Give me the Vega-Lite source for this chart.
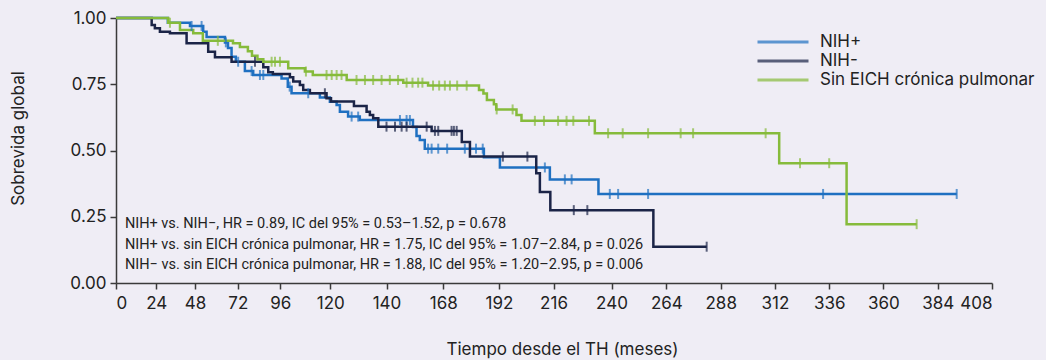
{
  "$schema": "https://vega.github.io/schema/vega-lite/v6.json",
  "width": 876,
  "height": 265,
  "autosize": {"type": "none"},
  "padding": {"left": 116, "top": 18, "right": 54, "bottom": 77},
  "background": "#efedf5",
  "config": {
    "view": {"stroke": null},
    "font": "Inter",
    "axis": {"grid": false, "domainColor": "#3a3a3a", "domainWidth": 1.5, "tickColor": "#3a3a3a", "tickWidth": 1.5, "labelColor": "#222222", "titleColor": "#222222", "labelFont": "Inter", "titleFont": "Inter", "titleFontWeight": "normal"}
  },
  "datasets": {
    "steps": [
      {"g": "NIH+", "t": 0, "s": 1.0}, {"g": "NIH+", "t": 31.2, "s": 0.982}, {"g": "NIH+", "t": 44.9, "s": 0.970}, {"g": "NIH+", "t": 52.6, "s": 0.948}, {"g": "NIH+", "t": 54.5, "s": 0.928}, {"g": "NIH+", "t": 64.8, "s": 0.908}, {"g": "NIH+", "t": 66.5, "s": 0.887}, {"g": "NIH+", "t": 68.5, "s": 0.854}, {"g": "NIH+", "t": 70.9, "s": 0.835}, {"g": "NIH+", "t": 76.0, "s": 0.800}, {"g": "NIH+", "t": 80.7, "s": 0.785}, {"g": "NIH+", "t": 96.6, "s": 0.772}, {"g": "NIH+", "t": 99.6, "s": 0.741}, {"g": "NIH+", "t": 101.4, "s": 0.716}, {"g": "NIH+", "t": 115.0, "s": 0.700}, {"g": "NIH+", "t": 119.8, "s": 0.684}, {"g": "NIH+", "t": 122.7, "s": 0.672}, {"g": "NIH+", "t": 124.1, "s": 0.646}, {"g": "NIH+", "t": 127.6, "s": 0.628}, {"g": "NIH+", "t": 132.6, "s": 0.615}, {"g": "NIH+", "t": 155.2, "s": 0.589}, {"g": "NIH+", "t": 156.7, "s": 0.555}, {"g": "NIH+", "t": 158.1, "s": 0.540}, {"g": "NIH+", "t": 160.2, "s": 0.507}, {"g": "NIH+", "t": 185.5, "s": 0.475}, {"g": "NIH+", "t": 192.4, "s": 0.436}, {"g": "NIH+", "t": 214.4, "s": 0.391}, {"g": "NIH+", "t": 234.6, "s": 0.336}, {"g": "NIH+", "t": 392.4, "s": 0.336},
      {"g": "NIH-", "t": 0, "s": 1.0}, {"g": "NIH-", "t": 21.3, "s": 0.974}, {"g": "NIH-", "t": 23.2, "s": 0.961}, {"g": "NIH-", "t": 26.3, "s": 0.948}, {"g": "NIH-", "t": 32.5, "s": 0.942}, {"g": "NIH-", "t": 42.8, "s": 0.905}, {"g": "NIH-", "t": 55.4, "s": 0.873}, {"g": "NIH-", "t": 59.2, "s": 0.852}, {"g": "NIH-", "t": 68.5, "s": 0.835}, {"g": "NIH-", "t": 86.4, "s": 0.814}, {"g": "NIH-", "t": 89.2, "s": 0.795}, {"g": "NIH-", "t": 91.8, "s": 0.789}, {"g": "NIH-", "t": 100.6, "s": 0.776}, {"g": "NIH-", "t": 102.2, "s": 0.760}, {"g": "NIH-", "t": 105.4, "s": 0.747}, {"g": "NIH-", "t": 107.0, "s": 0.728}, {"g": "NIH-", "t": 110.2, "s": 0.716}, {"g": "NIH-", "t": 118.2, "s": 0.697}, {"g": "NIH-", "t": 120.3, "s": 0.685}, {"g": "NIH-", "t": 130.1, "s": 0.668}, {"g": "NIH-", "t": 135.5, "s": 0.646}, {"g": "NIH-", "t": 136.9, "s": 0.634}, {"g": "NIH-", "t": 138.3, "s": 0.622}, {"g": "NIH-", "t": 140.5, "s": 0.590}, {"g": "NIH-", "t": 163.1, "s": 0.574}, {"g": "NIH-", "t": 176.0, "s": 0.532}, {"g": "NIH-", "t": 179.5, "s": 0.477}, {"g": "NIH-", "t": 208.4, "s": 0.414}, {"g": "NIH-", "t": 210.0, "s": 0.343}, {"g": "NIH-", "t": 214.6, "s": 0.275}, {"g": "NIH-", "t": 258.3, "s": 0.137}, {"g": "NIH-", "t": 281.8, "s": 0.137},
      {"g": "Sin EICH crónica pulmonar", "t": 0, "s": 1.0}, {"g": "Sin EICH crónica pulmonar", "t": 31.4, "s": 0.982}, {"g": "Sin EICH crónica pulmonar", "t": 38.7, "s": 0.955}, {"g": "Sin EICH crónica pulmonar", "t": 46.9, "s": 0.942}, {"g": "Sin EICH crónica pulmonar", "t": 52.4, "s": 0.914}, {"g": "Sin EICH crónica pulmonar", "t": 69.3, "s": 0.905}, {"g": "Sin EICH crónica pulmonar", "t": 73.2, "s": 0.891}, {"g": "Sin EICH crónica pulmonar", "t": 77.7, "s": 0.875}, {"g": "Sin EICH crónica pulmonar", "t": 80.0, "s": 0.858}, {"g": "Sin EICH crónica pulmonar", "t": 83.1, "s": 0.844}, {"g": "Sin EICH crónica pulmonar", "t": 86.4, "s": 0.835}, {"g": "Sin EICH crónica pulmonar", "t": 99.8, "s": 0.810}, {"g": "Sin EICH crónica pulmonar", "t": 107.8, "s": 0.798}, {"g": "Sin EICH crónica pulmonar", "t": 111.6, "s": 0.785}, {"g": "Sin EICH crónica pulmonar", "t": 127.0, "s": 0.766}, {"g": "Sin EICH crónica pulmonar", "t": 151.1, "s": 0.756}, {"g": "Sin EICH crónica pulmonar", "t": 161.6, "s": 0.745}, {"g": "Sin EICH crónica pulmonar", "t": 183.4, "s": 0.728}, {"g": "Sin EICH crónica pulmonar", "t": 185.3, "s": 0.715}, {"g": "Sin EICH crónica pulmonar", "t": 186.8, "s": 0.691}, {"g": "Sin EICH crónica pulmonar", "t": 189.8, "s": 0.675}, {"g": "Sin EICH crónica pulmonar", "t": 190.8, "s": 0.655}, {"g": "Sin EICH crónica pulmonar", "t": 199.7, "s": 0.634}, {"g": "Sin EICH crónica pulmonar", "t": 201.9, "s": 0.612}, {"g": "Sin EICH crónica pulmonar", "t": 233.1, "s": 0.565}, {"g": "Sin EICH crónica pulmonar", "t": 313.9, "s": 0.452}, {"g": "Sin EICH crónica pulmonar", "t": 343.7, "s": 0.222}, {"g": "Sin EICH crónica pulmonar", "t": 374.7, "s": 0.222}
    ],
    "censor": [
      {"g": "NIH+", "t": 45.9, "s": 0.970}, {"g": "NIH+", "t": 51.7, "s": 0.970}, {"g": "NIH+", "t": 65.3, "s": 0.908}, {"g": "NIH+", "t": 72.2, "s": 0.835}, {"g": "NIH+", "t": 79.8, "s": 0.800}, {"g": "NIH+", "t": 84.5, "s": 0.785}, {"g": "NIH+", "t": 86.4, "s": 0.785}, {"g": "NIH+", "t": 100.5, "s": 0.741}, {"g": "NIH+", "t": 109.4, "s": 0.716}, {"g": "NIH+", "t": 129.1, "s": 0.628}, {"g": "NIH+", "t": 131.9, "s": 0.628}, {"g": "NIH+", "t": 149.7, "s": 0.615}, {"g": "NIH+", "t": 152.5, "s": 0.615}, {"g": "NIH+", "t": 153.9, "s": 0.615}, {"g": "NIH+", "t": 161.6, "s": 0.507}, {"g": "NIH+", "t": 163.1, "s": 0.507}, {"g": "NIH+", "t": 165.9, "s": 0.507}, {"g": "NIH+", "t": 169.7, "s": 0.507}, {"g": "NIH+", "t": 177.3, "s": 0.507}, {"g": "NIH+", "t": 182.1, "s": 0.507}, {"g": "NIH+", "t": 185.0, "s": 0.507}, {"g": "NIH+", "t": 212.2, "s": 0.436}, {"g": "NIH+", "t": 220.7, "s": 0.391}, {"g": "NIH+", "t": 223.5, "s": 0.391}, {"g": "NIH+", "t": 239.3, "s": 0.336}, {"g": "NIH+", "t": 242.9, "s": 0.336}, {"g": "NIH+", "t": 256.0, "s": 0.336}, {"g": "NIH+", "t": 333.3, "s": 0.336}, {"g": "NIH+", "t": 392.4, "s": 0.336},
      {"g": "NIH-", "t": 81.7, "s": 0.835}, {"g": "NIH-", "t": 117.4, "s": 0.716}, {"g": "NIH-", "t": 144.0, "s": 0.590}, {"g": "NIH-", "t": 147.6, "s": 0.590}, {"g": "NIH-", "t": 150.4, "s": 0.590}, {"g": "NIH-", "t": 152.5, "s": 0.590}, {"g": "NIH-", "t": 161.0, "s": 0.590}, {"g": "NIH-", "t": 164.5, "s": 0.574}, {"g": "NIH-", "t": 165.9, "s": 0.574}, {"g": "NIH-", "t": 171.6, "s": 0.574}, {"g": "NIH-", "t": 172.6, "s": 0.574}, {"g": "NIH-", "t": 173.8, "s": 0.574}, {"g": "NIH-", "t": 193.7, "s": 0.477}, {"g": "NIH-", "t": 204.5, "s": 0.477}, {"g": "NIH-", "t": 224.4, "s": 0.275}, {"g": "NIH-", "t": 230.0, "s": 0.275}, {"g": "NIH-", "t": 281.8, "s": 0.137},
      {"g": "Sin EICH crónica pulmonar", "t": 32.5, "s": 0.982}, {"g": "Sin EICH crónica pulmonar", "t": 60.8, "s": 0.914}, {"g": "Sin EICH crónica pulmonar", "t": 91.1, "s": 0.835}, {"g": "Sin EICH crónica pulmonar", "t": 93.0, "s": 0.835}, {"g": "Sin EICH crónica pulmonar", "t": 95.8, "s": 0.835}, {"g": "Sin EICH crónica pulmonar", "t": 108.3, "s": 0.798}, {"g": "Sin EICH crónica pulmonar", "t": 118.2, "s": 0.785}, {"g": "Sin EICH crónica pulmonar", "t": 120.6, "s": 0.785}, {"g": "Sin EICH crónica pulmonar", "t": 122.7, "s": 0.785}, {"g": "Sin EICH crónica pulmonar", "t": 124.8, "s": 0.785}, {"g": "Sin EICH crónica pulmonar", "t": 131.2, "s": 0.766}, {"g": "Sin EICH crónica pulmonar", "t": 134.8, "s": 0.766}, {"g": "Sin EICH crónica pulmonar", "t": 138.3, "s": 0.766}, {"g": "Sin EICH crónica pulmonar", "t": 141.9, "s": 0.766}, {"g": "Sin EICH crónica pulmonar", "t": 145.4, "s": 0.766}, {"g": "Sin EICH crónica pulmonar", "t": 148.9, "s": 0.766}, {"g": "Sin EICH crónica pulmonar", "t": 152.5, "s": 0.756}, {"g": "Sin EICH crónica pulmonar", "t": 155.0, "s": 0.756}, {"g": "Sin EICH crónica pulmonar", "t": 157.4, "s": 0.756}, {"g": "Sin EICH crónica pulmonar", "t": 159.2, "s": 0.756}, {"g": "Sin EICH crónica pulmonar", "t": 163.7, "s": 0.745}, {"g": "Sin EICH crónica pulmonar", "t": 166.3, "s": 0.745}, {"g": "Sin EICH crónica pulmonar", "t": 168.7, "s": 0.745}, {"g": "Sin EICH crónica pulmonar", "t": 170.9, "s": 0.745}, {"g": "Sin EICH crónica pulmonar", "t": 174.0, "s": 0.745}, {"g": "Sin EICH crónica pulmonar", "t": 178.1, "s": 0.745}, {"g": "Sin EICH crónica pulmonar", "t": 191.0, "s": 0.655}, {"g": "Sin EICH crónica pulmonar", "t": 198.0, "s": 0.655}, {"g": "Sin EICH crónica pulmonar", "t": 207.8, "s": 0.612}, {"g": "Sin EICH crónica pulmonar", "t": 211.8, "s": 0.612}, {"g": "Sin EICH crónica pulmonar", "t": 217.9, "s": 0.612}, {"g": "Sin EICH crónica pulmonar", "t": 221.4, "s": 0.612}, {"g": "Sin EICH crónica pulmonar", "t": 224.2, "s": 0.612}, {"g": "Sin EICH crónica pulmonar", "t": 230.7, "s": 0.612}, {"g": "Sin EICH crónica pulmonar", "t": 238.6, "s": 0.565}, {"g": "Sin EICH crónica pulmonar", "t": 244.9, "s": 0.565}, {"g": "Sin EICH crónica pulmonar", "t": 256.0, "s": 0.565}, {"g": "Sin EICH crónica pulmonar", "t": 270.3, "s": 0.565}, {"g": "Sin EICH crónica pulmonar", "t": 275.8, "s": 0.565}, {"g": "Sin EICH crónica pulmonar", "t": 307.9, "s": 0.565}, {"g": "Sin EICH crónica pulmonar", "t": 323.1, "s": 0.452}, {"g": "Sin EICH crónica pulmonar", "t": 336.0, "s": 0.452}, {"g": "Sin EICH crónica pulmonar", "t": 374.7, "s": 0.222}
    ],
    "notes": [
      {"t": 5.3, "s": 0.223, "label": "NIH+ vs. NIH−, HR = 0.89, IC del 95% = 0.53–1.52, p = 0.678"},
      {"t": 5.3, "s": 0.145, "label": "NIH+ vs. sin EICH crónica pulmonar, HR = 1.75, IC del 95% = 1.07–2.84, p = 0.026"},
      {"t": 5.3, "s": 0.068, "label": "NIH− vs. sin EICH crónica pulmonar, HR = 1.88, IC del 95% = 1.20–2.95, p = 0.006"}
    ]
  },
  "encoding": {
    "x": {
      "field": "t", "type": "quantitative",
      "scale": {"domain": [0, 24, 48, 72, 96, 120, 144, 168, 192, 216, 240, 264, 288, 312, 336, 360, 384, 408], "range": [0, 40.2, 79, 121.8, 164.3, 214.3, 270.5, 327.2, 383, 437.5, 495.5, 550.4, 604.7, 658.9, 713.2, 767.4, 821.7, 876], "nice": false},
      "axis": {"values": [0, 24, 48, 72, 96, 120, 144, 168, 192, 216, 240, 264, 288, 312, 336, 360, 384, 408], "labelExpr": "datum.value == 144 ? '140' : datum.label", "labelFontSize": 17, "tickSize": 6, "labelPadding": 6, "title": "Tiempo desde el TH (meses)", "titleFontSize": 17, "titleX": 446, "titleY": 66, "titleBaseline": "middle"}
    },
    "y": {
      "field": "s", "type": "quantitative",
      "scale": {"domain": [0, 1], "nice": false},
      "axis": {"values": [0, 0.25, 0.5, 0.75, 1], "format": ".2f", "labelFontSize": 17, "tickSize": 6, "labelPadding": 4, "title": "Sobrevida global", "titleFontSize": 17, "titleX": -98, "titleY": 120, "titleAngle": -90, "titleAlign": "center", "titleBaseline": "middle"}
    }
  },
  "layer": [
    {
      "data": {"name": "steps"},
      "mark": {"type": "line", "interpolate": "step-after", "strokeWidth": 2.5},
      "encoding": {
        "color": {
          "field": "g", "type": "nominal",
          "scale": {"domain": ["NIH+", "NIH-", "Sin EICH crónica pulmonar"], "range": ["#1f70c1", "#1b2447", "#86bb3b"]},
          "legend": {"title": null, "orient": "none", "legendX": 657, "legendY": 14, "symbolType": "M-3,0H3", "symbolSize": 289, "symbolStrokeWidth": 3, "labelFontSize": 17, "labelFont": "Inter", "labelColor": "#222222", "labelOffset": 27, "labelLimit": 0, "rowPadding": 1, "padding": 0}
        }
      }
    },
    {
      "data": {"name": "censor"},
      "mark": {"type": "tick", "orient": "vertical", "size": 10, "thickness": 2},
      "encoding": {
        "color": {"field": "g", "type": "nominal"}
      }
    },
    {
      "data": {"name": "notes"},
      "mark": {"type": "text", "align": "left", "baseline": "middle", "font": "Roboto", "fontSize": 14.5, "color": "#222222"},
      "encoding": {"text": {"field": "label"}}
    }
  ]
}
